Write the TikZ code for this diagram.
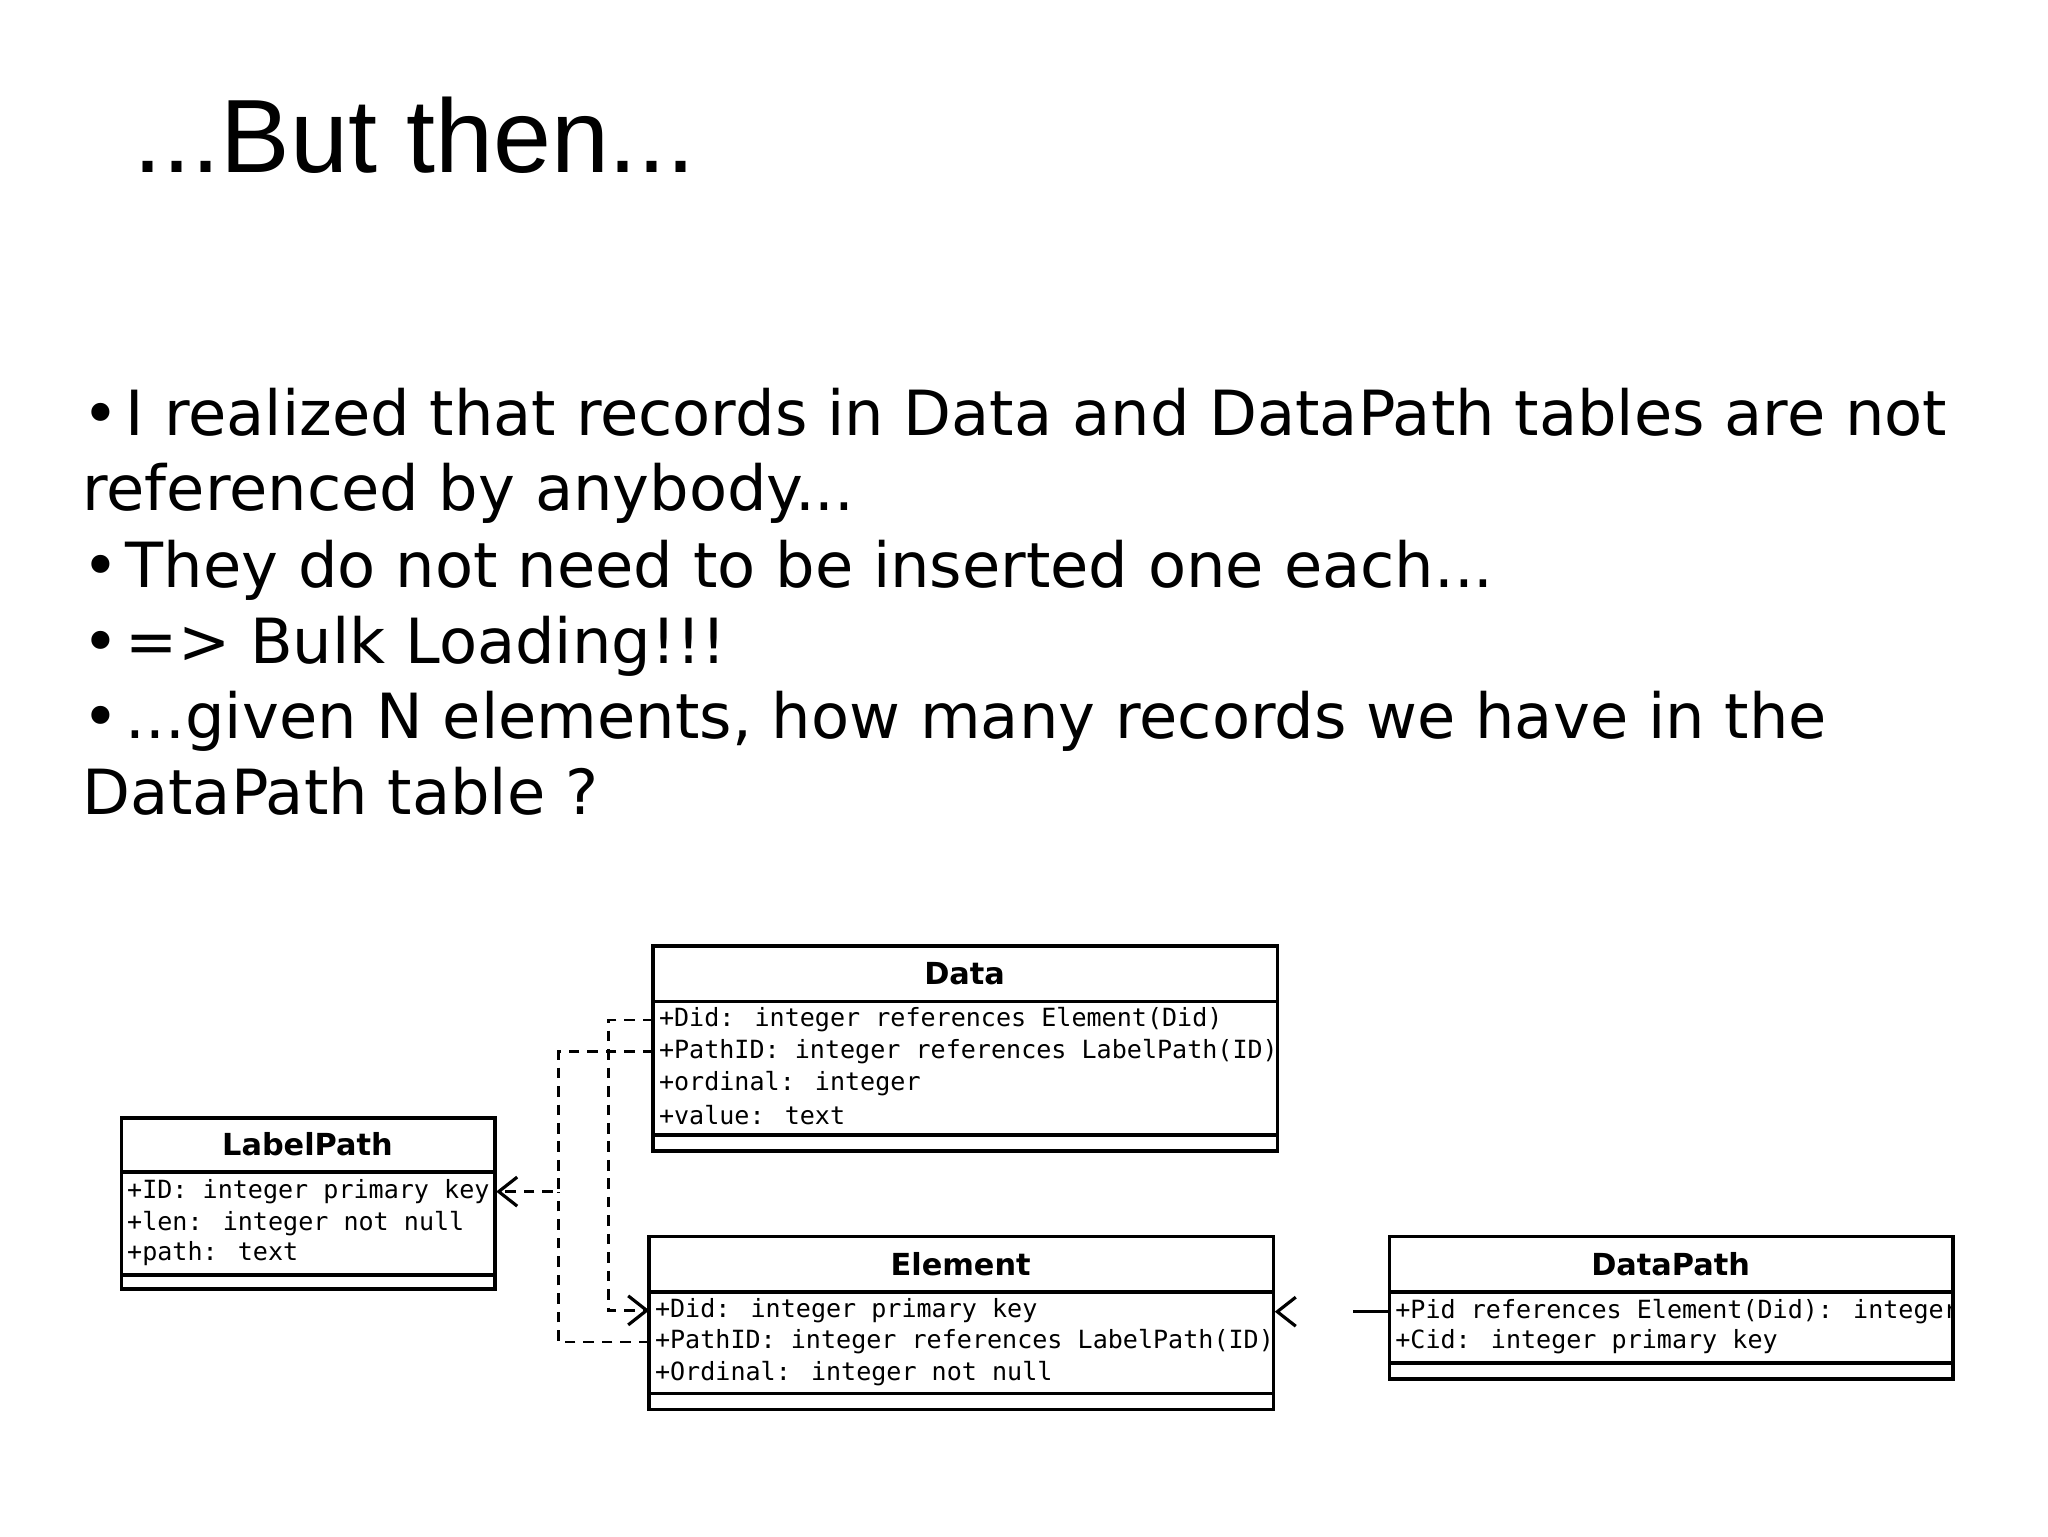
\documentclass[tikz,border=0pt]{standalone}
\usepackage{fontspec}
\setmainfont{DejaVu Sans}
\newfontfamily\titlefont{Liberation Sans}
\newfontfamily\monof{DejaVu Sans Mono}
\usetikzlibrary{arrows.meta}
\tikzset{
  sep/.style={line width=1.4pt},
  hdr/.style={font=\fontsize{11.5}{13}\selectfont\bfseries},
  attr/.style={font=\monof\fontsize{9.5}{11}\selectfont,anchor=west,inner sep=0pt},
  bl/.style={font=\fontsize{23.6}{28}\selectfont,anchor=base west,inner sep=0pt},
  dep/.style={dash pattern=on 4pt off 3pt,line width=1pt},
  tip/.style={-{Straight Barb[length=7pt,width=11pt,line width=1.2pt]}}
}
\begin{document}
\begin{tikzpicture}[x=0.5pt,y=-0.5pt]
\useasboundingbox (0,0) rectangle (1552,1164);
\node[font=\titlefont\fontsize{39.5}{46}\selectfont,anchor=base west,inner sep=0pt] (title) at (101,131) {...But then...};
\node[bl] (b1) at (62,330) {•};
\node[bl] (t1) at (95,330) {I realized that records in Data and DataPath tables are not};
\node[bl] (t2) at (62,387) {referenced by anybody...};
\node[bl] (b3) at (62,445) {•};
\node[bl] (t3) at (95,445) {They do not need to be inserted one each...};
\node[bl] (b4) at (62,503) {•};
\node[bl] (t4) at (95,503) {=> Bulk Loading!!!};
\node[bl] (b5) at (62,560) {•};
\node[bl] (t5) at (95,560) {...given N elements, how many records we have in the};
\node[bl] (t6) at (62,617) {DataPath table ?};

% Data
\draw[sep] (495,717) rectangle (968,872);
\draw[sep] (495,759) -- (968,759);
\draw[sep] (495,860) -- (968,860);
\node[hdr] (dh) at (731,738) {Data};
\node[attr] (d1) at (499,773) {+Did: integer references Element(Did)};
\node[attr] (d2) at (499,797) {+PathID: integer references LabelPath(ID)};
\node[attr] (d3) at (499,821) {+ordinal: integer};
\node[attr] (d4) at (499,845) {+value: text};
% LabelPath
\draw[sep] (92,847) rectangle (375,977);
\draw[sep] (92,888) -- (375,888);
\draw[sep] (92,966) -- (375,966);
\node[hdr] (lh) at (233,867) {LabelPath};
\node[attr] (l1) at (96,903) {+ID: integer primary key};
\node[attr] (l2) at (96,927) {+len: integer not null};
\node[attr] (l3) at (96,950) {+path: text};
% Element
\draw[sep] (492,937) rectangle (965,1068);
\draw[sep] (492,979) -- (965,979);
\draw[sep] (492,1056) -- (965,1056);
\node[hdr] (eh) at (728,958) {Element};
\node[attr] (e1) at (496,993) {+Did: integer primary key};
\node[attr] (e2) at (496,1017) {+PathID: integer references LabelPath(ID)};
\node[attr] (e3) at (496,1041) {+Ordinal: integer not null};
% DataPath
\draw[sep] (1053,937) rectangle (1480,1045);
\draw[sep] (1053,979) -- (1480,979);
\draw[sep] (1053,1033) -- (1480,1033);
\node[hdr] (ph) at (1266,958) {DataPath};
\begin{scope}
\clip (1053,979) rectangle (1479,1033);
\node[attr] (p1) at (1057,994) {+Pid references Element(Did): integer};
\node[attr] (p2) at (1057,1017) {+Cid: integer primary key};
\end{scope}
\coordinate (dDid) at (495,773);
\coordinate (dPid) at (495,797);
\coordinate (eDid) at (492,993);
\coordinate (ePid) at (492,1017);
\coordinate (lID) at (376,903);
\coordinate (pPid) at (1053,994);
\coordinate (eR) at (966,994);
% connectors
\draw[dep,tip] (dDid) -- (461,773) -- (461,993) -- (eDid);
\draw[dep,tip] (dPid) -- (423,797) -- (423,903) -- (lID);
\draw[dep] (ePid) -- (423,1017) -- (423,903);
\draw[line width=1.2pt,dash pattern=on 14pt off 30pt,tip] (pPid) -- (eR);
\end{tikzpicture}
\end{document}
